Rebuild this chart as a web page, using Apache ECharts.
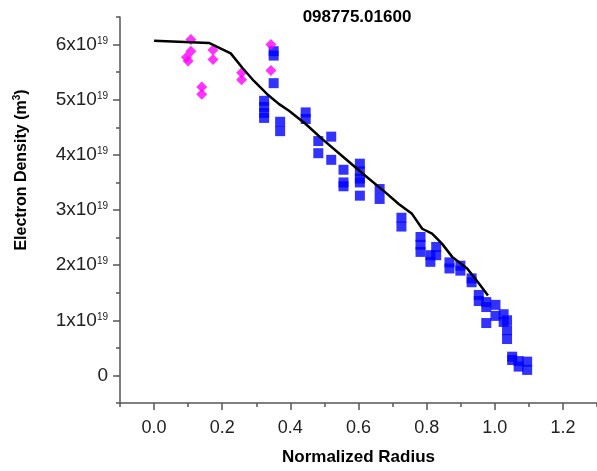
<!DOCTYPE html>
<html>
<head>
<meta charset="utf-8">
<script src="https://cdn.jsdelivr.net/npm/echarts@6/dist/echarts.min.js"></script>
<style>html,body{margin:0;padding:0;background:#fff}#c{width:597px;height:471px}</style>
</head>
<body>
<div id="c"></div>
<script>
// Units: y in 1e19 m^-3
var titleText = '098775.01600';
var xTickLabels = [0, 0.2, 0.4, 0.6, 0.8, 1.0, 1.2];
var xMinorTicks = [-0.1, 0.1, 0.3, 0.5, 0.7, 0.9, 1.1, 1.3];
var yTickLabels = [0, 1, 2, 3, 4, 5, 6];
var yMinorTicks = [-0.5, 0.5, 1.5, 2.5, 3.5, 4.5, 5.5, 6.5];

// Magenta diamonds (x, y)
var diamondX = [0.108, 0.108, 0.095, 0.100, 0.173, 0.173, 0.140, 0.140, 0.257, 0.257, 0.343, 0.343];
var diamondY = [6.09, 5.88, 5.77, 5.70, 5.90, 5.73, 5.23, 5.10, 5.49, 5.36, 6.00, 5.53];

// Blue squares (x, y)
var squareX = [0.351, 0.351, 0.351,
  0.323, 0.323, 0.323, 0.323,
  0.370, 0.370,
  0.445, 0.445,
  0.482, 0.482,
  0.520, 0.520,
  0.556, 0.556, 0.556,
  0.604, 0.604, 0.604, 0.604, 0.604,
  0.662, 0.662,
  0.726, 0.726,
  0.782, 0.782, 0.782,
  0.811, 0.811,
  0.828, 0.828,
  0.867, 0.867,
  0.899, 0.899,
  0.932, 0.932,
  0.953, 0.953,
  0.975, 0.975, 0.975,
  1.002, 1.002,
  1.026, 1.026,
  1.036, 1.036, 1.036,
  1.051, 1.051,
  1.070, 1.070,
  1.095, 1.095];
var squareY = [5.88, 5.80, 5.30,
  4.98, 4.87, 4.76, 4.67,
  4.60, 4.43,
  4.77, 4.65,
  4.25, 4.03,
  4.33, 3.91,
  3.73, 3.50, 3.43,
  3.84, 3.70, 3.57, 3.50, 3.26,
  3.38, 3.20,
  2.86, 2.70,
  2.51, 2.37, 2.24,
  2.18, 2.06,
  2.33, 2.18,
  2.05, 1.94,
  1.99, 1.90,
  1.76, 1.69,
  1.46, 1.35,
  1.33, 1.24, 0.95,
  1.28, 1.08,
  1.11, 0.97,
  1.00, 0.82, 0.66,
  0.34, 0.28,
  0.26, 0.16,
  0.25, 0.10];

// Black fit line
var fitX = [0.0, 0.161, 0.225, 0.259, 0.293, 0.332, 0.367, 0.396, 0.445, 0.493, 0.552, 0.620, 0.679, 0.718, 0.757, 0.787, 0.816, 0.845, 0.875, 0.919, 0.953, 0.980];
var fitY = [6.07, 6.03, 5.84, 5.58, 5.34, 5.10, 4.92, 4.80, 4.56, 4.29, 3.98, 3.62, 3.32, 3.11, 2.93, 2.66, 2.57, 2.39, 2.15, 1.94, 1.67, 1.45];

function zip(a, b) { return a.map(function (v, i) { return [v, b[i]]; }); }

var FONT = '"Liberation Sans", Arial, sans-serif';
var axisColor = '#555';

function tickAxis(pos, min, max, values, len) {
  return {
    type: 'value', min: min, max: max, position: pos,
    axisLine: {show: false, onZero: false},
    axisTick: {show: true, inside: false, length: len, customValues: values, lineStyle: {color: axisColor, width: 1.5}},
    axisLabel: {show: false},
    splitLine: {show: false}
  };
}

var chart = echarts.init(document.getElementById('c'), null, {renderer: 'canvas'});
chart.setOption({
  animation: false,
  backgroundColor: '#fff',
  title: {
    text: titleText, left: 352, top: 4, textAlign: 'center',
    textStyle: {fontFamily: FONT, fontWeight: 'bold', fontSize: 17, color: '#000'}
  },
  grid: {left: 120, right: 0, top: 17, bottom: 67, containLabel: false},
  xAxis: [{
    type: 'value', min: -0.1, max: 1.3, position: 'bottom',
    name: 'Normalized Radius', nameLocation: 'middle', nameGap: 46,
    nameTextStyle: {fontFamily: FONT, fontWeight: 'bold', fontSize: 17, color: '#000'},
    axisLine: {show: true, onZero: false, lineStyle: {color: axisColor, width: 1.5}},
    axisTick: {show: false},
    axisLabel: {customValues: xTickLabels, margin: 16, fontFamily: FONT, fontSize: 18, color: '#222',
      formatter: function (v) { return v.toFixed(1); }},
    splitLine: {show: false}
  },
  tickAxis('bottom', -0.1, 1.3, xTickLabels, 7),
  tickAxis('bottom', -0.1, 1.3, xMinorTicks, 4)],
  yAxis: [{
    type: 'value', min: -0.5, max: 6.5, position: 'left',
    axisLine: {show: true, onZero: false, lineStyle: {color: axisColor, width: 1.5}},
    axisTick: {show: false},
    axisLabel: {
      customValues: yTickLabels, margin: 12,
      formatter: function (v) { return v === 0 ? '{a|0}' : '{a|' + v + 'x10}{s|19}'; },
      rich: {
        a: {fontFamily: FONT, fontSize: 19, color: '#222', verticalAlign: 'bottom'},
        s: {fontFamily: FONT, fontSize: 10, color: '#222', verticalAlign: 'bottom', padding: [0, 0, 8, 0]}
      }
    },
    splitLine: {show: false}
  },
  tickAxis('left', -0.5, 6.5, yTickLabels, 7),
  tickAxis('left', -0.5, 6.5, yMinorTicks, 4)],
  graphic: [{
    type: 'text', x: 21, y: 170, rotation: Math.PI / 2,
    style: {
      text: '{b|Electron Density (m}{s|3}{b|)}',
      align: 'center', verticalAlign: 'middle',
      rich: {
        b: {fontFamily: FONT, fontWeight: 'bold', fontSize: 16, color: '#000', verticalAlign: 'bottom'},
        s: {fontFamily: FONT, fontWeight: 'bold', fontSize: 10, color: '#000', verticalAlign: 'bottom', padding: [0, 0, 8, 0]}
      }
    }
  }],
  series: [{
    type: 'scatter', symbol: 'rect', symbolSize: 10,
    itemStyle: {color: '#0000ff'},
    data: zip(squareX, squareY), z: 2
  }, {
    type: 'scatter', symbol: 'diamond', symbolSize: [11, 11],
    itemStyle: {color: '#ff00ff'},
    data: zip(diamondX, diamondY), z: 3
  }, {
    type: 'line', showSymbol: false, symbol: 'none',
    lineStyle: {color: '#000', width: 2.5},
    data: zip(fitX, fitY), z: 4
  }]
});
</script>
</body>
</html>
